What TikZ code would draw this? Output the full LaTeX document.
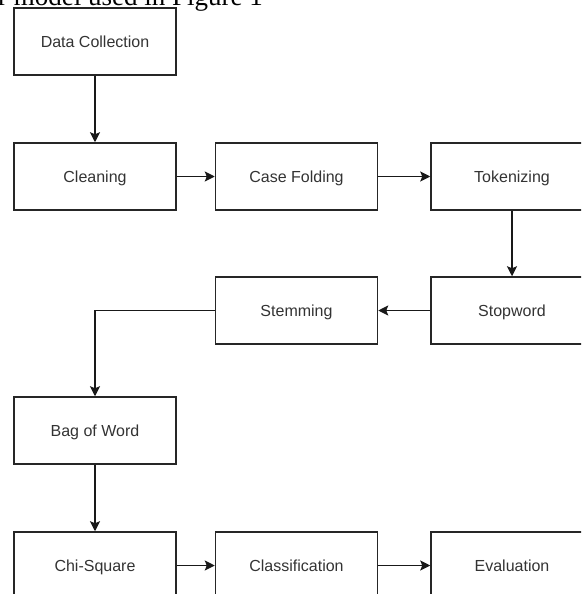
\documentclass[tikz,border=0pt]{standalone}
\usepackage{fontspec}
\setmainfont{Liberation Sans}
\newfontfamily\captionfont{Liberation Serif}
\usetikzlibrary{arrows.meta}

\begin{document}
\begin{tikzpicture}[x=1pt, y=-1pt,
    stage/.style={draw=black!85, line width=1.5pt, minimum width=162pt,
        minimum height=67pt, inner sep=0pt, text height=11.5pt, text depth=0pt,
        font=\fontsize{16}{18}\selectfont, text=black!80},
    flow/.style={draw=black!90, line width=1.5pt,
        -{Stealth[length=10pt, width=10pt, inset=2pt]}}]
    \useasboundingbox (0,0) rectangle (581,594);
    \clip (0,0) rectangle (581,594);

    % Caption line cut by the crop
    \node[anchor=base west, inner sep=0pt,
        font=\captionfont\fontsize{27}{30}\selectfont] (caption) at (-2,6)
        {r model used in Figure 1};

    % First column
    \node[stage] (collect) at (95,41.5) {Data Collection};
    \node[stage] (clean) at (95,176.5) {Cleaning};
    \node[stage] (bow) at (95,430.5) {Bag of Word};
    \node[stage] (chi) at (95,565.5) {Chi-Square};

    % Second column
    \node[stage] (fold) at (296.5,176.5) {Case Folding};
    \node[stage] (stem) at (296.5,310.5) {Stemming};
    \node[stage] (classif) at (296.5,565.5) {Classification};

    % Third column
    \node[stage] (token) at (512,176.5) {Tokenizing};
    \node[stage] (stopw) at (512,310.5) {Stopword};
    \node[stage] (eval) at (512,565.5) {Evaluation};

    % Flow
    \draw[flow] (collect) -- (clean);
    \draw[flow] (clean) -- (fold);
    \draw[flow] (fold) -- (token);
    \draw[flow] (token) -- (stopw);
    \draw[flow] (stopw) -- (stem);
    \draw[flow] (stem.west) -| (bow.north);
    \draw[flow] (bow) -- (chi);
    \draw[flow] (chi) -- (classif);
    \draw[flow] (classif) -- (eval);
\end{tikzpicture}
\end{document}
